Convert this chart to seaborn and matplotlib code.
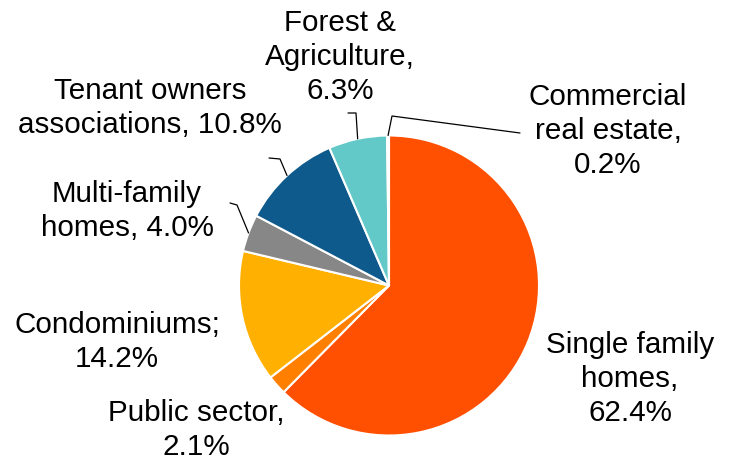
import numpy as np
import seaborn as sns
import matplotlib.pyplot as plt

# data, clockwise from 12 o'clock
labels = [
    "Single family\nhomes,\n62.4%",
    "Public sector,\n2.1%",
    "Condominiums;\n14.2%",
    "Multi-family\nhomes, 4.0%",
    "Tenant owners\nassociations, 10.8%",
    "Forest &\nAgriculture,\n6.3%",
    "Commercial\nreal estate,\n0.2%",
]
shares = [62.4, 2.1, 14.2, 4.0, 10.8, 6.3, 0.2]
colors = ["#FF4F00", "#FF7F00", "#FFB000", "#878787", "#0F5A8C", "#63C8C8", "#D9D9D9"]

# label centres in pixel space (x, y from top)
label_pos = [(630, 379), (196, 430), (117, 342), (127, 211), (150, 108), (340, 57), (608, 131)]
# elbow / end of leader lines (None = no leader)
leaders = [
    None,
    None,
    None,
    [(237, 205), (230, 203)],
    [(280, 159), (269, 158)],
    [(356, 113), (348, 113)],
    [(392, 116), (520, 133)],
]

W, H = 731, 462
cx, cy, r = 389, 285.5, 150

sns.set_theme(style="white")
plt.rcParams["font.family"] = ["Liberation Sans", "DejaVu Sans"]

fig = plt.figure(figsize=(W / 100, H / 100), dpi=100)
ax = fig.add_axes([0, 0, 1, 1])
ax.set_xlim(0, W)
ax.set_ylim(0, H)
ax.set_aspect("equal")
ax.axis("off")

ax.pie(
    shares,
    colors=colors,
    startangle=90,
    counterclock=False,
    center=(cx, H - cy),
    radius=r,
    wedgeprops=dict(edgecolor="white", linewidth=1.5),
    frame=False,
)
ax.set_xlim(0, W)
ax.set_ylim(0, H)

cum = np.cumsum([0] + shares[:-1])
for lab, s, c0, pos, ld in zip(labels, shares, cum, label_pos, leaders):
    ax.text(pos[0], H - pos[1], lab, ha="center", va="center",
            fontsize=21.3, linespacing=1.28, color="black")
    if ld is not None:
        ang = np.deg2rad((c0 + s / 2) / 100 * 360)
        px = cx + r * np.sin(ang)
        py = cy - r * np.cos(ang)
        pts = [(px, py)] + ld
        ax.plot([p[0] for p in pts], [H - p[1] for p in pts], color="black", lw=0.9)

fig.savefig("out.png", dpi=100)
